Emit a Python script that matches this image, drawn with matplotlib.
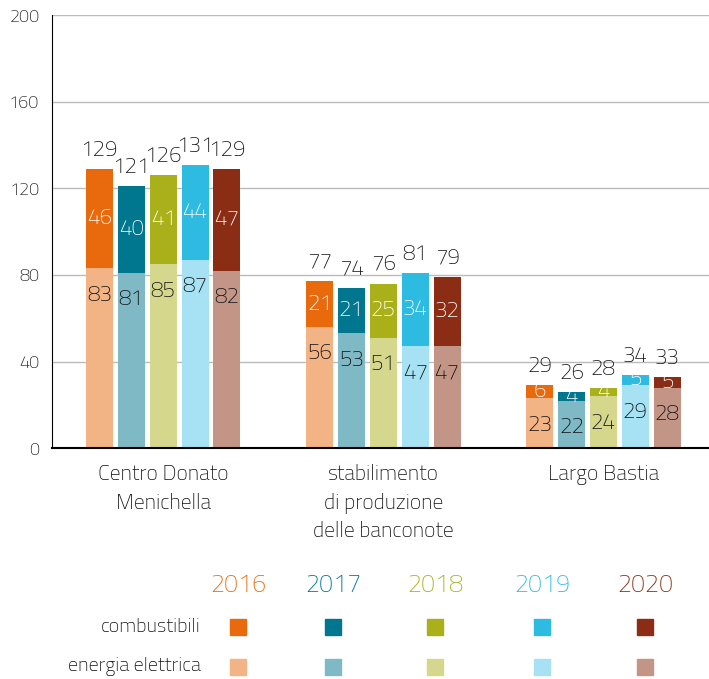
import matplotlib
matplotlib.use('Agg')
import matplotlib.pyplot as plt
import numpy as np

plt.rcParams['font.family'] = ['Titillium Web', 'DejaVu Sans']
plt.rcParams['font.weight'] = 'light'

sites = ['Centro Donato\nMenichella', 'stabilimento\ndi produzione\ndelle banconote', 'Largo Bastia']
years = ['2016', '2017', '2018', '2019', '2020']
# energia elettrica (bottom) and combustibili (top), per year, per site
energia = [[83, 56, 23], [81, 53, 22], [85, 51, 24], [87, 47, 29], [82, 47, 28]]
combustibili = [[46, 21, 6], [40, 21, 4], [41, 25, 4], [44, 34, 5], [47, 32, 5]]
totali = [[129, 77, 29], [121, 74, 26], [126, 76, 28], [131, 81, 34], [129, 79, 33]]

col_comb = ['#E96A0C', '#00778F', '#A9B01A', '#2DBBE2', '#8A2D14']
col_ener = ['#F2B385', '#80B9C6', '#D4D78C', '#A6E2F3', '#C39586']

fig = plt.figure(figsize=(7.09, 6.79), dpi=100)
ax = fig.add_axes([0.0733, 0.340, 0.9267, 0.6377])

x = np.arange(len(sites))
step = 0.145
w = 0.123
for j in range(len(years)):
    xs = x + (j - 2) * step
    e = np.array(energia[j])
    c = np.array(combustibili[j])
    ax.bar(xs, e, w, color=col_ener[j], zorder=3)
    ax.bar(xs, c, w, bottom=e, color=col_comb[j], zorder=3)
    for k in range(len(sites)):
        ax.text(xs[k], e[k] - 12.5, str(e[k]), ha='center', va='center', fontsize=16, color='#111111', zorder=4)
        ax.text(xs[k], e[k] + c[k] / 2, str(c[k]), ha='center', va='center', fontsize=16, color='white', zorder=4)
        ax.text(xs[k], totali[j][k] + 8.5, str(totali[j][k]), ha='center', va='center', fontsize=16, color='#111111', zorder=4)

ax.set_xlim(-0.505, 2.48)
ax.set_ylim(0, 200)
ax.set_yticks([0, 40, 80, 120, 160, 200])
ax.tick_params(axis='y', length=0, labelsize=13, pad=9, colors='#111111')
ax.set_xticks([])
ax.grid(axis='y', color='#BBBBBB', lw=1, zorder=0)
for s in ['top', 'right']:
    ax.spines[s].set_visible(False)
ax.spines['left'].set_linewidth(0.8)
ax.spines['bottom'].set_linewidth(1.5)
ax.spines['bottom'].set_zorder(5)

for k in range(len(sites)):
    ax.text(x[k], -7.5, sites[k], ha='center', va='top', fontsize=15.5, color='#111111',
            linespacing=1.45, transform=ax.transData)

# legend table
leg_x = [238, 333, 435, 542, 645]
W, H = 709.0, 679.0
for j in range(len(years)):
    fig.text(leg_x[j] / W, 1 - 585 / H, years[j], color=col_comb[j], fontsize=18, ha='center', va='center')
    fig.patches.append(plt.Rectangle(((leg_x[j] - 8) / W, 1 - (627 + 8) / H), 16 / W, 16 / H,
                                     color=col_comb[j], transform=fig.transFigure, figure=fig))
    fig.patches.append(plt.Rectangle(((leg_x[j] - 8) / W, 1 - (667 + 8) / H), 16 / W, 16 / H,
                                     color=col_ener[j], transform=fig.transFigure, figure=fig))
fig.text(201 / W, 1 - 627 / H, 'combustibili', fontsize=14.5, ha='right', va='center', color='#111111')
fig.text(201 / W, 1 - 667 / H, 'energia elettrica', fontsize=14.5, ha='right', va='center', color='#111111')

fig.savefig('out.png', dpi=100)
